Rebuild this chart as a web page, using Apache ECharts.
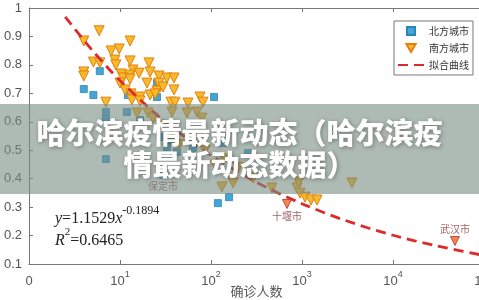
<!DOCTYPE html>
<html>
<head>
<meta charset="utf-8">
<script src="https://cdn.jsdelivr.net/npm/echarts@6/dist/echarts.min.js"></script>
<style>
  html, body { margin: 0; padding: 0; background: #fff; }
  #chart { width: 479px; height: 300px; }
</style>
</head>
<body>
<div id="chart"></div>
<script>
// data
var northPts = [
    [6.0, 0.778], [4.0, 0.715], [5.1, 0.694], [25.5, 0.736], [25.5, 0.687], [108, 0.687],
    [12.2, 0.694], [7.0, 0.634], [7.0, 0.61], [11.9, 0.634], [16.6, 0.606], [27.5, 0.546],
    [32.8, 0.511], [42.3, 0.494], [63.4, 0.508], [135, 0.525], [37.3, 0.536], [255, 0.49],
    [7.0, 0.469], [119, 0.314], [158, 0.335]
];
var southPts = [
    [5.9, 0.92], [4.0, 0.884], [12.9, 0.884], [8.0, 0.849], [9.8, 0.856], [5.1, 0.81],
    [6.0, 0.807], [8.8, 0.817], [9.0, 0.80], [12.9, 0.814], [4.0, 0.775], [4.0, 0.761],
    [20.8, 0.807], [13.9, 0.782], [16.2, 0.771], [12.6, 0.764], [10.3, 0.768], [10.8, 0.754],
    [12.9, 0.75], [21.4, 0.775], [26.8, 0.761], [32.8, 0.754], [39.2, 0.754], [10, 0.736],
    [19.8, 0.736], [27.5, 0.722], [26.8, 0.736], [39.2, 0.712], [11.4, 0.712], [13.2, 0.698],
    [16.6, 0.687], [21.4, 0.694], [25.5, 0.708], [29.7, 0.722], [24.3, 0.698], [13.5, 0.677],
    [16.6, 0.673], [75.7, 0.687], [81.7, 0.669], [36.3, 0.669], [40.2, 0.669], [55.9, 0.666],
    [7.0, 0.669], [15.4, 0.631], [20.3, 0.631], [23, 0.613], [37.3, 0.634], [54.5, 0.631],
    [70.2, 0.634], [79.6, 0.613], [27.5, 0.589], [39.2, 0.553], [58.8, 0.536], [85.9, 0.501],
    [45, 0.52], [75, 0.55], [140, 0.47], [200, 0.44], [111, 0.448], [132, 0.371], [175, 0.385],
    [290, 0.402], [468, 0.367], [881, 0.367], [920, 0.388], [3540, 0.385], [951, 0.349],
    [1079, 0.335], [1256, 0.325], [1462, 0.325]
];
var fitPts = [
    [2.5, 0.969], [5, 0.85], [10, 0.745], [30, 0.605], [100, 0.482], [300, 0.391],
    [1000, 0.312], [3000, 0.253], [10000, 0.201], [30000, 0.164], [100000, 0.13]
];
var cityNames = ['十堰市', '武汉市', '保定市'];
var cityKinds = ['south', 'south', 'north'];
var cityPts = [[684, 0.311], [47970, 0.181], [29.7, 0.413]];
var legendNames = ['北方城市', '南方城市', '拟合曲线'];

// legend icons as paths so they keep their aspect
var legendIcons = [
    'path://M0,0L1,0L1,1L0,1Z',
    'path://M0,0L2.2,0L1.1,1.9Z',
    'path://M0,0L10,0L10,2.2L0,2.2Z M16,0L26,0L26,2.2L16,2.2Z'
];

var cityData = cityPts.map(function (p, i) {
    var north = cityKinds[i] === 'north';
    return {
        value: p,
        name: cityNames[i],
        symbol: north ? 'rect' : 'triangle',
        symbolSize: north ? 7 : 9,
        symbolRotate: north ? 0 : 180,
        itemStyle: north ? { color: '#45a5d6', borderColor: '#2b86b8', borderWidth: 0.8 }
                         : { color: '#f26522', borderColor: '#b8322a', borderWidth: 1 },
        label: { position: p[1] < 0.25 ? 'top' : 'bottom', distance: 2 }
    };
});

var serif = '"Liberation Serif", "DejaVu Serif", serif';
var cjk = '"Noto Sans CJK SC", sans-serif';
var sans = '"Liberation Sans", Arial, sans-serif';

var myChart = echarts.init(document.getElementById('chart'));
var option = {
    animation: false,
    backgroundColor: '#fff',
    grid: { left: 29, right: -5, top: 8, bottom: 36, containLabel: false, outerBoundsMode: 'none' },
    title: {
        text: '哈尔滨疫情最新动态（哈尔滨疫\n情最新动态数据）',
        left: 'center',
        top: 112,
        z: 200,
        textStyle: {
            fontFamily: cjk,
            fontSize: 29,
            fontWeight: 900,
            lineHeight: 32,
            color: '#fff',
            textShadowColor: 'rgba(0,0,0,0.35)',
            textShadowBlur: 4,
            textShadowOffsetX: 1,
            textShadowOffsetY: 1
        }
    },
    legend: {
        data: legendNames.map(function (n, i) { return { name: n, icon: legendIcons[i] }; }),
        orient: 'vertical',
        left: 394,
        top: 21,
        padding: [5, 4, 5, 4],
        itemWidth: 26,
        itemHeight: 8,
        itemGap: 7,
        symbolKeepAspect: true,
        backgroundColor: '#fff',
        borderColor: '#777',
        borderWidth: 1,
        borderRadius: 0,
        textStyle: { fontFamily: cjk, fontSize: 10, color: '#333' }
    },
    xAxis: [{
        type: 'log',
        logBase: 10,
        min: 1,
        max: 100000,
        name: '确诊人数',
        nameLocation: 'middle',
        nameGap: 21,
        nameMoveOverlap: false,
        nameTextStyle: { fontFamily: cjk, fontSize: 13, color: '#555' },
        axisLine: { lineStyle: { color: '#777', width: 1 } },
        axisTick: { inside: true, length: 4, lineStyle: { color: '#777' } },
        minorTick: { show: false },
        splitLine: { show: false },
        axisLabel: {
            margin: 6,
            color: '#555',
            formatter: function (v) {
                var e = Math.round(Math.log10(v));
                return e === 0 ? '{b|0}' : '{b|10}{s|' + e + '}';
            },
            rich: {
                b: { fontFamily: sans, fontSize: 13, lineHeight: 22, color: '#555' },
                s: { fontFamily: sans, fontSize: 9, lineHeight: 10, verticalAlign: 'top', color: '#555' }
            }
        }
    }, {
        type: 'log',
        logBase: 10,
        min: 1,
        max: 100000,
        position: 'top',
        axisLine: { lineStyle: { color: '#777', width: 1 } },
        axisTick: { inside: true, length: 4, lineStyle: { color: '#777' } },
        axisLabel: { show: false },
        splitLine: { show: false }
    }],
    yAxis: {
        type: 'value',
        min: 0.1,
        max: 1,
        interval: 0.1,
        axisLine: { show: true, lineStyle: { color: '#777', width: 1 } },
        axisTick: { show: true, inside: true, length: 4, lineStyle: { color: '#777' } },
        splitLine: { show: false },
        axisLabel: {
            margin: 7,
            fontFamily: sans,
            fontSize: 13,
            color: '#555',
            formatter: function (v) { return String(Math.round(v * 10) / 10); }
        }
    },
    graphic: [
        {
            type: 'text',
            left: 55,
            top: 205,
            z: 50,
            style: {
                text: '{i|y}{n|=1.1529}{i|x}{s|-0.1894}',
                rich: {
                    i: { fontFamily: serif, fontStyle: 'italic', fontSize: 16, lineHeight: 28, fill: '#222' },
                    n: { fontFamily: serif, fontSize: 16, lineHeight: 28, fill: '#222' },
                    s: { fontFamily: serif, fontSize: 12, lineHeight: 12, verticalAlign: 'top', fill: '#222' }
                }
            }
        },
        {
            type: 'text',
            left: 55,
            top: 227,
            z: 50,
            style: {
                text: '{i|R}{s|2}{n|=0.6465}',
                rich: {
                    i: { fontFamily: serif, fontStyle: 'italic', fontSize: 16, lineHeight: 28, fill: '#222' },
                    n: { fontFamily: serif, fontSize: 16, lineHeight: 28, fill: '#222' },
                    s: { fontFamily: serif, fontSize: 11, lineHeight: 12, verticalAlign: 'top', fill: '#222' }
                }
            }
        },
        {
            type: 'rect',
            left: 0,
            top: 104,
            z: 100,
            shape: { width: 479, height: 90 },
            style: { fill: 'rgba(120,140,130,0.6)' }
        }
    ],
    series: [
        {
            name: '北方城市',
            type: 'scatter',
            symbol: 'rect',
            symbolSize: 7,
            itemStyle: { color: '#45a5d6', borderColor: '#2b86b8', borderWidth: 0.8, opacity: 1 },
            data: northPts,
            z: 3
        },
        {
            name: '南方城市',
            type: 'scatter',
            symbol: 'triangle',
            symbolRotate: 180,
            symbolSize: 10,
            itemStyle: { color: '#f8b92a', borderColor: '#e3800e', borderWidth: 1, opacity: 1 },
            data: southPts,
            z: 4
        },
        {
            name: '拟合曲线',
            type: 'line',
            data: fitPts,
            symbol: 'none',
            smooth: 0.3,
            lineStyle: { color: '#dd2a2a', width: 2.8, type: [10, 6] },
            itemStyle: { color: '#dd2a2a' },
            z: 5
        },
        {
            name: 'cities',
            type: 'scatter',
            data: cityData,
            label: {
                show: true,
                formatter: '{b}',
                fontFamily: cjk,
                fontSize: 10,
                color: '#8b3a3a'
            },
            z: 6
        }
    ]
};
myChart.setOption(option);
</script>
</body>
</html>
